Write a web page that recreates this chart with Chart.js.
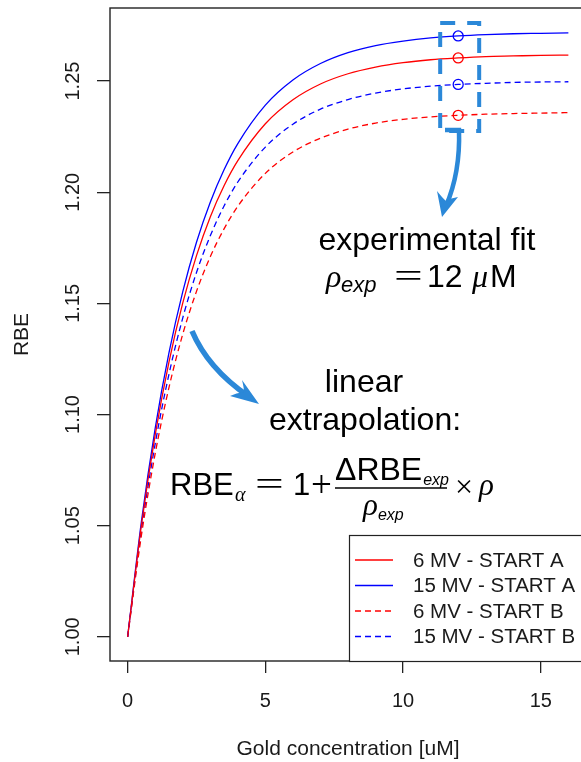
<!DOCTYPE html>
<html>
<head>
<meta charset="utf-8">
<script src="https://cdn.jsdelivr.net/npm/chart.js@4.4.1/dist/chart.umd.min.js"></script>
<style>
  html, body { margin: 0; padding: 0; background: #fff; overflow: hidden; }
  #wrap { width: 600px; height: 762px; }
</style>
</head>
<body>
<div id="wrap"><canvas id="rbe" width="600" height="762"></canvas></div>
<script>
// gold concentration [uM] and fitted RBE curves
const conc   = [0, 0.5, 1, 1.5, 2, 2.5, 3, 3.5, 4, 5, 6, 7, 8, 9, 10, 11, 12, 13, 14, 15, 16];
const rbe6A  = [1.0000, 1.0502, 1.0908, 1.1236, 1.1501, 1.1715, 1.1889, 1.2029, 1.2142, 1.2308, 1.2416,
                1.2487, 1.2533, 1.2563, 1.2583, 1.2596, 1.2604, 1.2610, 1.2613, 1.2616, 1.2617];
const rbe15A = [1.0000, 1.0518, 1.0938, 1.1277, 1.1552, 1.1775, 1.1955, 1.2101, 1.2219, 1.2392, 1.2505,
                1.2579, 1.2628, 1.2660, 1.2680, 1.2694, 1.2703, 1.2709, 1.2713, 1.2715, 1.2717];
const rbe6B  = [1.0000, 1.0456, 1.0824, 1.1121, 1.1361, 1.1554, 1.1710, 1.1835, 1.1937, 1.2085, 1.2181,
                1.2243, 1.2284, 1.2311, 1.2328, 1.2339, 1.2346, 1.2351, 1.2354, 1.2356, 1.2358];
const rbe15B = [1.0000, 1.0480, 1.0868, 1.1181, 1.1434, 1.1639, 1.1804, 1.1938, 1.2046, 1.2203, 1.2306,
                1.2374, 1.2417, 1.2446, 1.2465, 1.2477, 1.2485, 1.2490, 1.2494, 1.2496, 1.2497];
const seriesLabels = ['6 MV - START A', '15 MV - START A', '6 MV - START B', '15 MV - START B'];
const xTicks = [0, 5, 10, 15];
const yTicks = [1.00, 1.05, 1.10, 1.15, 1.20, 1.25];
const fitConc = 12; // experimental fit point

const RED = '#ff0000', BLUE = '#0000ff', ACCENT = '#2b88d8', INK = '#1a1a1a';
const SANS = '"Liberation Sans", Arial, sans-serif';
const SERIF = '"Liberation Serif", "DejaVu Serif", serif';

const curves = [
  { label: seriesLabels[0], values: rbe6A,  color: RED,  dash: [] },
  { label: seriesLabels[1], values: rbe15A, color: BLUE, dash: [] },
  { label: seriesLabels[2], values: rbe6B,  color: RED,  dash: [6, 4] },
  { label: seriesLabels[3], values: rbe15B, color: BLUE, dash: [6, 4] }
];

const fitIdx = conc.indexOf(fitConc);

const datasets = curves.map(c => ({
  label: c.label,
  data: conc.map((x, i) => ({ x: x, y: c.values[i] })),
  borderColor: c.color,
  borderDash: c.dash,
  borderWidth: 1.3,
  pointRadius: 0,
  fill: false,
  cubicInterpolationMode: 'monotone'
}));

datasets.push({
  label: 'fit',
  type: 'scatter',
  data: curves.map(c => ({ x: fitConc, y: c.values[fitIdx] })),
  pointStyle: 'circle',
  pointRadius: 5,
  pointBorderWidth: 1.3,
  pointBorderColor: curves.map(c => c.color),
  pointBackgroundColor: 'rgba(0,0,0,0)'
});

function text(ctx, str, x, y, font, align) {
  ctx.font = font;
  ctx.textAlign = align || 'left';
  ctx.fillText(str, x, y);
  return ctx.measureText(str).width;
}

// thin, wide equals sign like the TeX one
function equals(ctx, x, y) {
  ctx.save();
  ctx.translate(x, y);
  ctx.scale(1.5, 1);
  text(ctx, '=', 0, 0, '34px ' + SERIF);
  ctx.restore();
}

function arrowHead(ctx, tip, b1, notch, b2) {
  ctx.beginPath();
  ctx.moveTo(tip[0], tip[1]);
  ctx.lineTo(b1[0], b1[1]);
  ctx.quadraticCurveTo((b1[0] + notch[0]) / 2 + 1, (b1[1] + notch[1]) / 2 + 2, notch[0], notch[1]);
  ctx.quadraticCurveTo((b2[0] + notch[0]) / 2 - 1, (b2[1] + notch[1]) / 2 - 1, b2[0], b2[1]);
  ctx.closePath();
  ctx.fill();
}

const decor = {
  id: 'decor',
  afterDraw(chart) {
    const ctx = chart.ctx;
    const a = chart.chartArea;
    const xs = chart.scales.x, ys = chart.scales.y;
    ctx.save();

    // plot frame
    ctx.strokeStyle = '#222';
    ctx.lineWidth = 1.4;
    ctx.strokeRect(a.left, a.top, a.right - a.left, a.bottom - a.top);

    // tick labels
    ctx.fillStyle = INK;
    ctx.textBaseline = 'middle';
    xTicks.forEach(v => text(ctx, String(v), xs.getPixelForValue(v), 701, '20px ' + SANS, 'center'));
    yTicks.forEach(v => {
      ctx.save();
      ctx.translate(73, ys.getPixelForValue(v));
      ctx.rotate(-Math.PI / 2);
      text(ctx, v.toFixed(2), 0, 0, '20px ' + SANS, 'center');
      ctx.restore();
    });

    // axis titles
    text(ctx, 'Gold concentration [uM]', (a.left + a.right) / 2, 749, '21px ' + SANS, 'center');
    ctx.save();
    ctx.translate(22, (a.top + a.bottom) / 2);
    ctx.rotate(-Math.PI / 2);
    text(ctx, 'RBE', 0, 0, '21px ' + SANS, 'center');
    ctx.restore();

    // legend
    const lx = 349, ly = 535;
    ctx.fillStyle = '#fff';
    ctx.fillRect(lx, ly, a.right - lx, a.bottom - ly);
    ctx.strokeStyle = '#222';
    ctx.lineWidth = 1.2;
    ctx.strokeRect(lx + 0.5, ly + 0.5, a.right - lx, a.bottom - ly);
    curves.forEach((c, i) => {
      const y = 560 + i * 25.5;
      ctx.strokeStyle = c.color;
      ctx.lineWidth = 1.3;
      ctx.setLineDash(c.dash);
      ctx.beginPath();
      ctx.moveTo(355, y);
      ctx.lineTo(393, y);
      ctx.stroke();
      ctx.setLineDash([]);
      ctx.fillStyle = INK;
      text(ctx, c.label, 413, y + 1, '20.5px ' + SANS);
    });

    // dashed box around the fit points
    const bx = xs.getPixelForValue(fitConc);
    ctx.strokeStyle = ACCENT;
    ctx.fillStyle = ACCENT;
    ctx.lineWidth = 4;
    ctx.setLineDash([15, 12]);
    ctx.strokeRect(bx - 18, 23, 39, 108);
    ctx.setLineDash([]);

    // arrow down to the fit label
    ctx.lineWidth = 4.5;
    ctx.lineCap = 'butt';
    ctx.beginPath();
    ctx.moveTo(445, 130);
    ctx.lineTo(459, 130);
    ctx.bezierCurveTo(460, 160, 455, 185, 446, 206);
    ctx.stroke();
    arrowHead(ctx, [442, 217], [437, 191], [446, 201], [458, 197]);

    // arrow towards the extrapolation label
    ctx.lineWidth = 5.5;
    ctx.beginPath();
    ctx.moveTo(192, 331);
    ctx.bezierCurveTo(203, 357, 222, 378, 248, 396);
    ctx.stroke();
    arrowHead(ctx, [259, 404], [242, 380], [244, 392], [230, 396]);

    // annotation text
    ctx.fillStyle = '#000';
    ctx.textBaseline = 'alphabetic';
    text(ctx, 'experimental fit', 427, 250, '32px ' + SANS, 'center');
    text(ctx, 'ρ', 326, 287, 'italic 32px ' + SERIF);
    text(ctx, 'exp', 341, 292, 'italic 22px ' + SANS);
    equals(ctx, 394, 287);
    text(ctx, '12', 427, 287, '32px ' + SANS);
    text(ctx, 'μ', 472, 287, 'italic 32px ' + SERIF);
    text(ctx, 'M', 490, 287, '32px ' + SANS);

    text(ctx, 'linear', 364, 392, '32px ' + SANS, 'center');
    text(ctx, 'extrapolation:', 365, 430, '32px ' + SANS, 'center');

    // RBE_alpha = 1 + dRBE_exp / rho_exp * rho
    text(ctx, 'RBE', 170, 495, '31px ' + SANS);
    text(ctx, 'α', 235, 501, 'italic 20px ' + SERIF);
    equals(ctx, 255, 495);
    text(ctx, '1', 293, 495, '31px ' + SANS);
    text(ctx, '+', 311, 497, '37px ' + SERIF);
    const wNum = text(ctx, 'ΔRBE', 335, 480, '32px ' + SANS);
    text(ctx, 'exp', 335 + wNum + 1, 485, 'italic 16px ' + SANS);
    ctx.strokeStyle = '#000';
    ctx.lineWidth = 1.4;
    ctx.beginPath();
    ctx.moveTo(335, 488);
    ctx.lineTo(447, 488);
    ctx.stroke();
    const wRho = text(ctx, 'ρ', 363, 515, 'italic 31px ' + SERIF);
    text(ctx, 'exp', 363 + wRho, 520, 'italic 16px ' + SANS);
    text(ctx, '×', 455, 497, '32px ' + SERIF);
    text(ctx, 'ρ', 479, 495, 'italic 31px ' + SERIF);

    ctx.restore();
  }
};

new Chart(document.getElementById('rbe'), {
  type: 'line',
  data: { datasets: datasets },
  options: {
    responsive: false,
    animation: false,
    events: [],
    layout: { padding: { top: 8, right: 14, left: 0, bottom: 0 } },
    plugins: { legend: { display: false }, tooltip: { enabled: false } },
    scales: {
      x: {
        type: 'linear',
        min: -0.64,
        max: 16.64,
        afterBuildTicks: s => { s.ticks = xTicks.map(v => ({ value: v })); },
        afterFit: s => { s.height = 101; },
        ticks: { display: false },
        border: { display: false },
        grid: { drawOnChartArea: false, drawTicks: true, tickLength: 12, color: '#222', lineWidth: 1.3 }
      },
      y: {
        type: 'linear',
        min: 0.98912,
        max: 1.28288,
        afterBuildTicks: s => { s.ticks = yTicks.map(v => ({ value: v })); },
        afterFit: s => { s.width = 110; },
        ticks: { display: false },
        border: { display: false },
        grid: { drawOnChartArea: false, drawTicks: true, tickLength: 13, color: '#222', lineWidth: 1.3 }
      }
    }
  },
  plugins: [decor]
});
</script>
</body>
</html>
